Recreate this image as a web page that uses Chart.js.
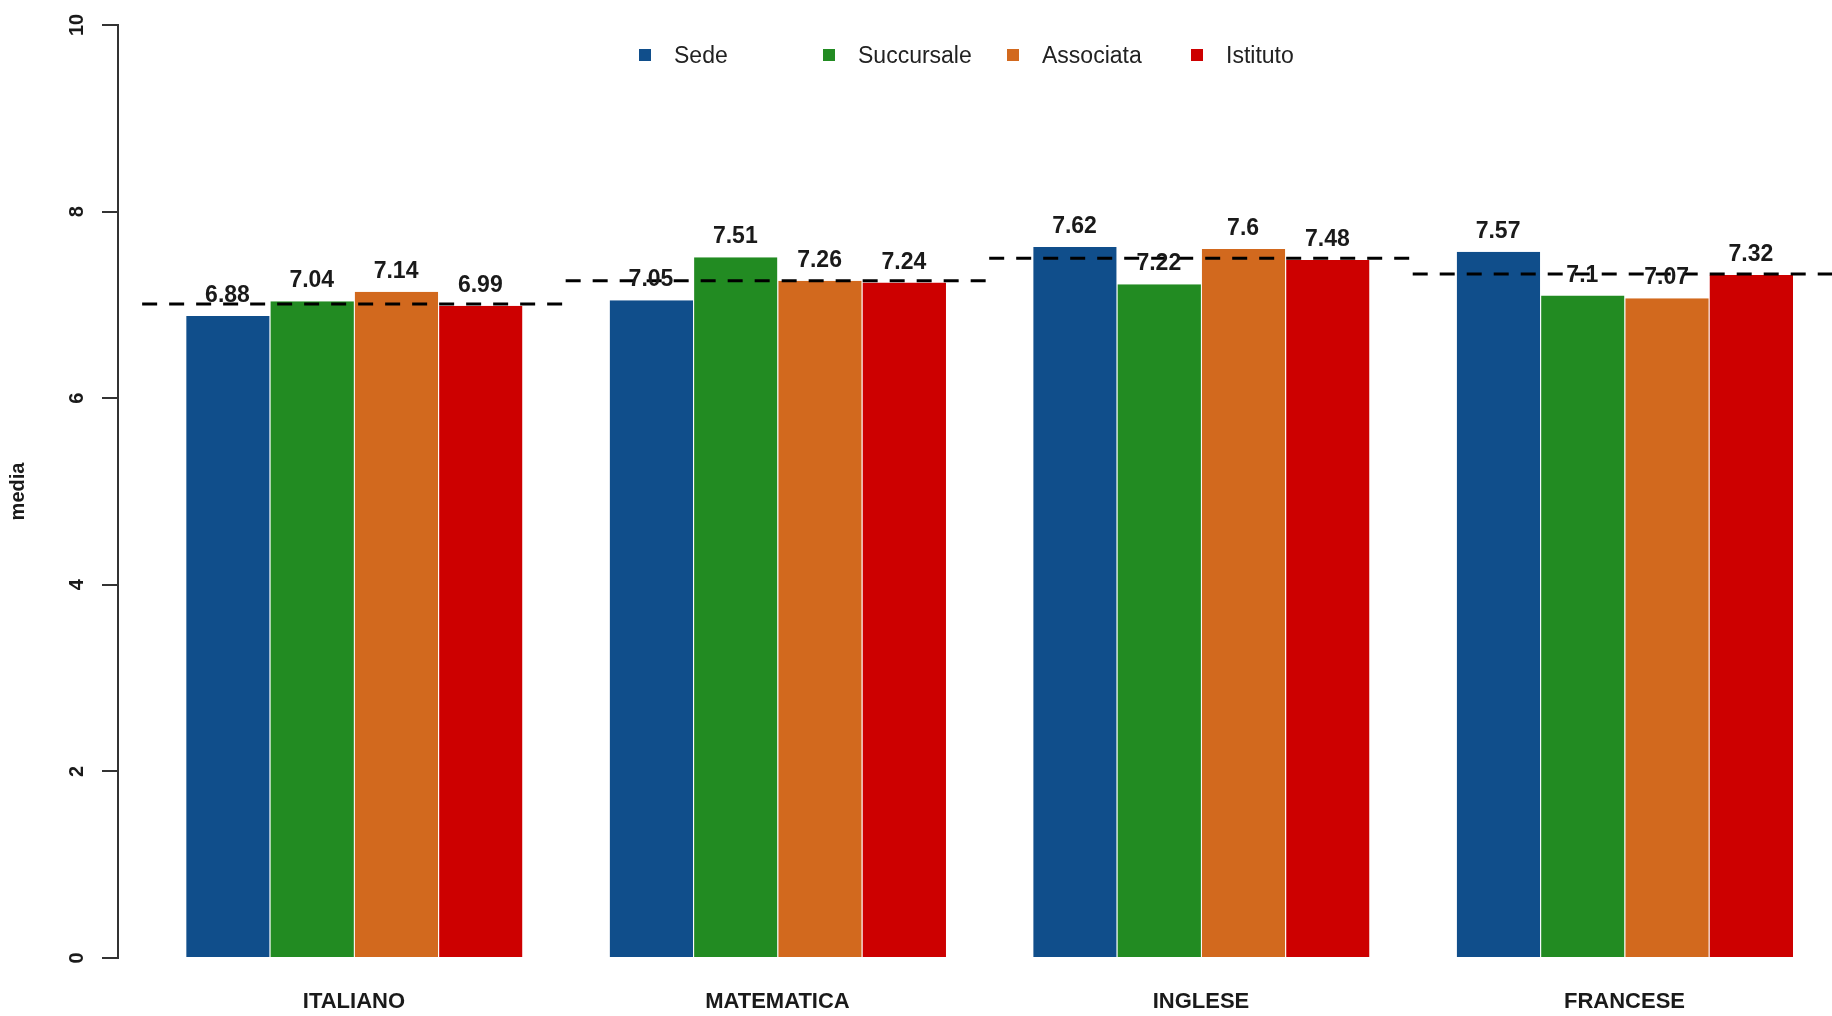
<!DOCTYPE html>
<html>
<head>
<meta charset="utf-8">
<title>media per materia</title>
<script src="https://cdn.jsdelivr.net/npm/chart.js@4.4.1/dist/chart.umd.min.js"></script>
<style>
    html, body { margin: 0; padding: 0; background: #fff; overflow: hidden; }
    #wrap { position: relative; width: 1832px; height: 1016px; }
    #legend {
        position: absolute; left: 639px; top: 40px; display: flex;
        font-family: 'Liberation Sans', Arial, sans-serif; font-size: 23px; color: #222;
    }
    #legend .item { width: 184px; height: 30px; display: flex; align-items: center; }
    #legend .box { width: 12px; height: 12px; margin-right: 23px; }
</style>
</head>
<body>
<div id="wrap">
    <canvas id="chart"></canvas>
    <div id="legend"></div>
</div>
<script>
// Data
const categories = ['ITALIANO', 'MATEMATICA', 'INGLESE', 'FRANCESE'];
const seriesNames = ['Sede', 'Succursale', 'Associata', 'Istituto'];
const sede = [6.88, 7.05, 7.62, 7.57];
const succursale = [7.04, 7.51, 7.22, 7.1];
const associata = [7.14, 7.26, 7.6, 7.07];
const istituto = [6.99, 7.24, 7.48, 7.32];
// dashed reference line, one level per subject
const riferimento = [7.01, 7.26, 7.5, 7.33];
const yTicks = [0, 2, 4, 6, 8, 10];

const colors = ['#104E8B', '#228B22', '#D2691E', '#CD0000'];
const FONT = "'Liberation Sans', Arial, sans-serif";
Chart.defaults.font.family = FONT;

// Value printed above every bar
const valueLabels = {
    id: 'valueLabels',
    afterDatasetsDraw(chart) {
        const ctx = chart.ctx;
        ctx.save();
        ctx.font = 'bold 23px ' + FONT;
        ctx.fillStyle = '#1a1a1a';
        ctx.textAlign = 'center';
        ctx.textBaseline = 'alphabetic';
        chart.data.datasets.forEach((ds, i) => {
            if (ds.type !== 'bar') return;
            chart.getDatasetMeta(i).data.forEach((bar, j) => {
                ctx.fillText(String(ds.data[j].y), bar.x, bar.y - 14);
            });
        });
        ctx.restore();
    }
};

// Legend built as html from the bar datasets
const htmlLegend = {
    id: 'htmlLegend',
    afterUpdate(chart) {
        const box = document.getElementById('legend');
        box.innerHTML = '';
        chart.data.datasets.forEach(ds => {
            if (ds.type !== 'bar') return;
            const item = document.createElement('div');
            item.className = 'item';
            const sq = document.createElement('span');
            sq.className = 'box';
            sq.style.background = ds.backgroundColor;
            const txt = document.createElement('span');
            txt.textContent = ds.label;
            item.appendChild(sq);
            item.appendChild(txt);
            box.appendChild(item);
        });
    }
};

const barSeries = [sede, succursale, associata, istituto];
const barDatasets = barSeries.map((vals, k) => ({
    type: 'bar',
    label: seriesNames[k],
    data: vals.map((v, i) => ({ x: i, y: v })),
    backgroundColor: colors[k],
    borderColor: '#ffffff',
    borderWidth: { left: 1, right: 0, top: 0, bottom: 0 },
    categoryPercentage: 0.796,
    barPercentage: 1,
    order: 2
}));

const lineData = [];
riferimento.forEach((v, i) => {
    lineData.push({ x: i - 0.5, y: v }, { x: i + 0.5, y: v }, { x: i + 0.5, y: null });
});

new Chart(document.getElementById('chart'), {
    data: {
        datasets: [
            ...barDatasets,
            {
                type: 'line',
                label: 'riferimento',
                data: lineData,
                borderColor: '#000000',
                borderWidth: 3,
                borderDash: [15, 12],
                pointRadius: 0,
                fill: false,
                spanGaps: false,
                order: 1
            }
        ]
    },
    options: {
        responsive: true,
        maintainAspectRatio: false,
        animation: false,
        devicePixelRatio: 1,
        layout: { padding: { top: 24, right: 0, bottom: 0, left: 0 } },
        plugins: {
            legend: { display: false },
            tooltip: { enabled: false }
        },
        scales: {
            x: {
                type: 'linear',
                offset: false,
                min: -0.557,
                max: 3.49,
                afterFit: (scale) => { scale.height = 58; },
                grid: { display: false, drawTicks: false, offset: false },
                border: { display: false },
                ticks: {
                    stepSize: 1,
                    includeBounds: false,
                    autoSkip: false,
                    maxRotation: 0,
                    padding: 31,
                    color: '#1a1a1a',
                    font: { size: 22, weight: 'bold' },
                    callback: (v) => categories[v] ?? ''
                }
            },
            y: {
                min: 0,
                max: 10,
                afterFit: (scale) => { scale.width = 118; },
                afterBuildTicks: (scale) => { scale.ticks = yTicks.map(v => ({ value: v })); },
                border: { display: true, color: '#333', width: 2 },
                grid: {
                    display: true, drawOnChartArea: false, drawTicks: true,
                    tickLength: 16, color: '#333', lineWidth: 2
                },
                ticks: {
                    minRotation: 90,
                    maxRotation: 90,
                    crossAlign: 'center',
                    padding: 13,
                    color: '#1a1a1a',
                    font: { size: 20, weight: 'bold' }
                },
                title: {
                    display: true,
                    text: 'media',
                    color: '#1a1a1a',
                    font: { size: 20, weight: 'bold' },
                    padding: { top: 6, bottom: 0 }
                }
            }
        }
    },
    plugins: [valueLabels, htmlLegend]
});
</script>
</body>
</html>
